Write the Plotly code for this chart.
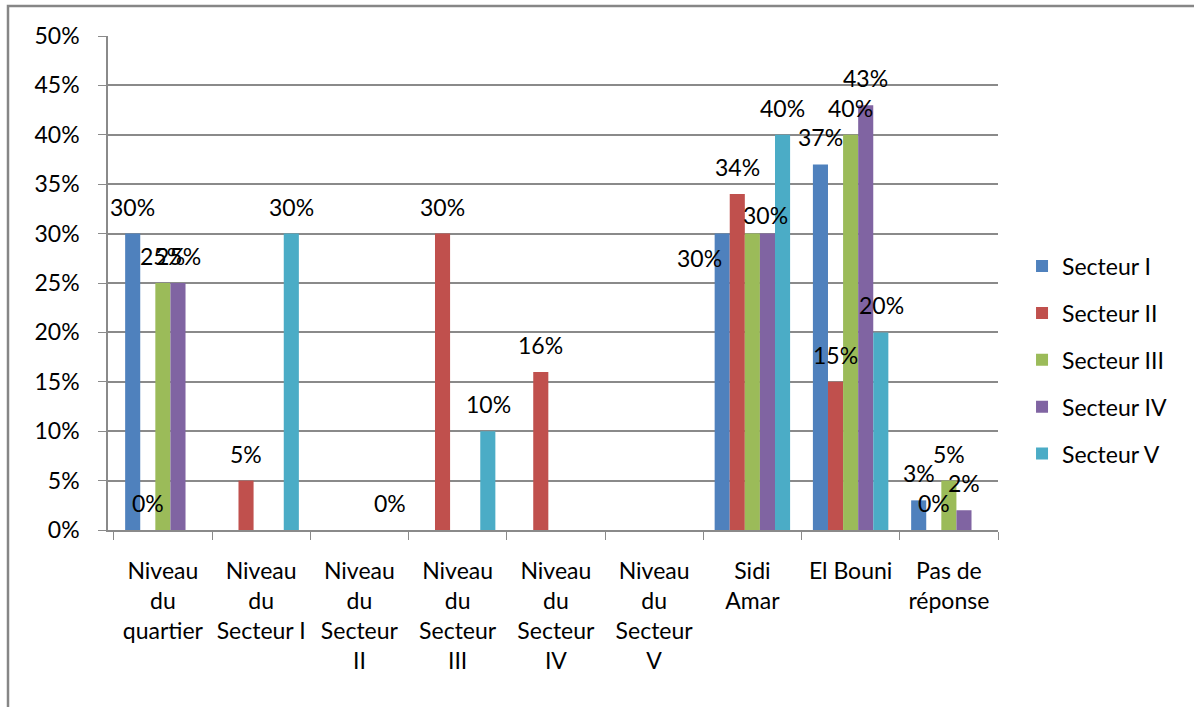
import plotly.graph_objects as go

categories = ["Niveau du quartier", "Niveau du Secteur I", "Niveau du Secteur II",
              "Niveau du Secteur III", "Niveau du Secteur IV", "Niveau du Secteur V",
              "Sidi Amar", "El Bouni", "Pas de réponse"]
tick_labels = ["Niveau<br>du<br>quartier", "Niveau<br>du<br>Secteur I", "Niveau<br>du<br>Secteur<br>II",
               "Niveau<br>du<br>Secteur<br>III", "Niveau<br>du<br>Secteur<br>IV", "Niveau<br>du<br>Secteur<br>V",
               "Sidi<br>Amar", "El Bouni", "Pas de<br>réponse"]
series_names = ["Secteur I", "Secteur II", "Secteur III", "Secteur IV", "Secteur V"]
secteur_1 = [30, None, None, None, None, None, 30, 37, 3]
secteur_2 = [0, 5, None, 30, 16, None, 34, 15, 0]
secteur_3 = [25, None, None, None, None, None, 30, 40, 5]
secteur_4 = [25, None, None, None, None, None, 30, 43, 2]
secteur_5 = [None, 30, 0, 10, None, None, 40, 20, None]
series_values = [secteur_1, secteur_2, secteur_3, secteur_4, secteur_5]
colors = ["#4F81BD", "#C0504D", "#9BBB59", "#8064A2", "#4BACC6"]
y_ticks = [0, 5, 10, 15, 20, 25, 30, 35, 40, 45, 50]
y_tick_labels = [f"{t}%" for t in y_ticks]

# labels not shown in the original
hidden_labels = {(2, 6)}
# (series, category) -> (xshift extra, yshift) for labels moved in the original
moved_labels = {(0, 6): (-23, -24), (3, 6): (-2, 19)}

FONT = "Lato, 'Open Sans', sans-serif"
FS = 23
GRID = "#8a8a8a"

fig = go.Figure()
for name, vals, col in zip(series_names, series_values, colors):
    fig.add_trace(go.Bar(x=categories, y=vals, name=name, marker_color=col,
                         marker_line_width=0, legendgroup=name))

plot_w = 1194 - 108 - 196
cat_w = plot_w / len(categories)
bargap = 0.232
bar_w = cat_w * (1 - bargap) / 5

annotations = []
for i, vals in enumerate(series_values):
    for j, v in enumerate(vals):
        if v is None or (i, j) in hidden_labels:
            continue
        dx, dy = moved_labels.get((i, j), (0, 27))
        annotations.append(dict(x=categories[j], y=v, xref="x", yref="y",
                                text=f"{v}%", showarrow=False,
                                xshift=(i - 2) * bar_w + dx, yshift=dy,
                                yanchor="middle", xanchor="center",
                                font=dict(family=FONT, size=FS, color="black")))

fig.update_layout(
    width=1194, height=707,
    margin=dict(l=108, r=196, t=36, b=177),
    paper_bgcolor="white", plot_bgcolor="white",
    barmode="group", bargap=bargap, bargroupgap=0,
    font=dict(family=FONT, size=FS, color="black"),
    showlegend=True,
    legend=dict(x=1.027, xanchor="left", y=0.344, yanchor="middle",
                traceorder="grouped", tracegroupgap=14,
                font=dict(family=FONT, size=FS, color="black"),
                bgcolor="rgba(0,0,0,0)"),
    annotations=annotations,
    shapes=[dict(type="rect", xref="paper", yref="paper",
                 x0=(8 - 108) / plot_w, x1=1.5, y0=-0.5, y1=(530 - 6) / 494,
                 line=dict(color="#868686", width=2.5), layer="below")],
)
fig.update_xaxes(categoryorder="array", categoryarray=categories,
                 tickmode="array", tickvals=categories, ticktext=tick_labels,
                 tickson="boundaries", ticks="outside", ticklen=8, tickcolor=GRID,
                 showline=True, linecolor=GRID, linewidth=1.5,
                 showgrid=False, ticklabelstandoff=20,
                 tickfont=dict(family=FONT, size=FS, color="black"))
fig.update_yaxes(range=[0, 50], tickmode="array", tickvals=y_ticks, ticktext=y_tick_labels,
                 ticks="outside", ticklen=8, tickcolor=GRID,
                 showline=True, linecolor=GRID, linewidth=1.5,
                 showgrid=True, gridcolor=GRID, gridwidth=1.5,
                 zeroline=False, ticklabelstandoff=14,
                 tickfont=dict(family=FONT, size=FS, color="black"))

fig.write_html("out.html", config={"displayModeBar": False},
               post_script="document.body.style.margin='0';document.body.style.overflow='hidden';")
